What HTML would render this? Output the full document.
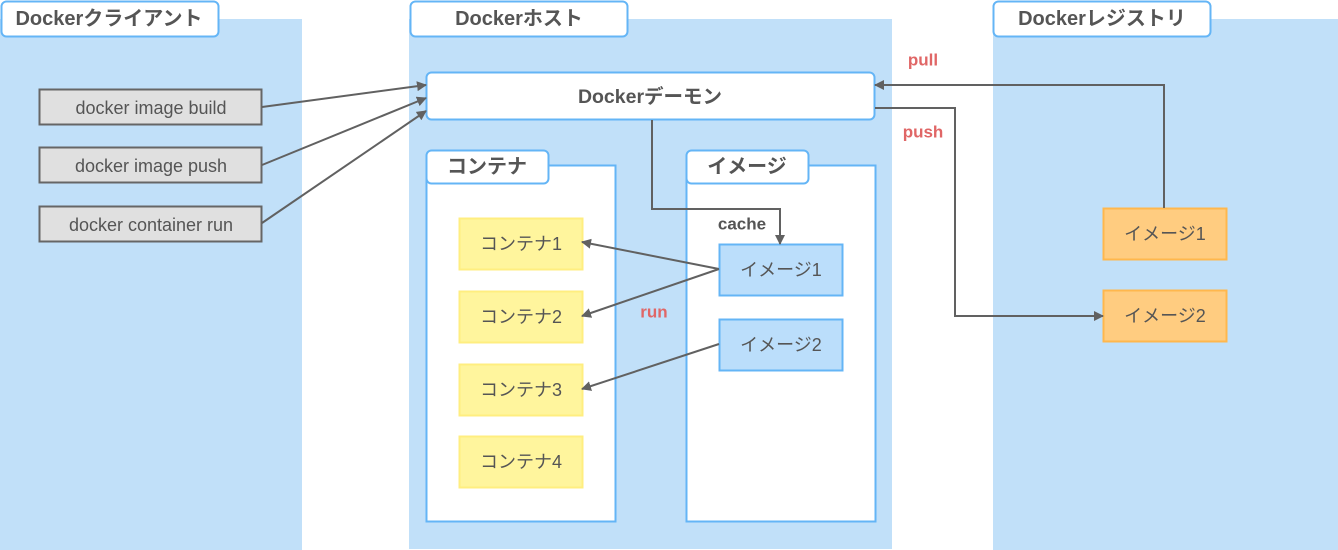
<!DOCTYPE html>
<html><head><meta charset="utf-8"><style>
html,body{margin:0;padding:0;background:#fff;}
svg{display:block;}
text{font-family:"Liberation Sans","Noto Sans CJK JP",sans-serif;fill:#555;}
.t{font-size:18px;text-anchor:middle;dominant-baseline:central;}
.b{font-size:19.5px;font-weight:bold;text-anchor:middle;dominant-baseline:central;}
.h{font-size:20px;font-weight:bold;text-anchor:middle;dominant-baseline:central;}
.l{font-size:17px;font-weight:bold;text-anchor:middle;dominant-baseline:central;}
</style></head><body>
<svg width="1338" height="550" viewBox="0 0 1338 550" xmlns="http://www.w3.org/2000/svg">
<defs><marker id="a" markerWidth="10" markerHeight="10" refX="9" refY="5" orient="auto" markerUnits="userSpaceOnUse"><path d="M0,0 L10,5 L0,10 Z" fill="#616161"/></marker></defs>
<rect x="0" y="19" width="302" height="531" fill="#c1e0f9"/>
<rect x="409" y="19" width="483" height="530" fill="#c1e0f9"/>
<rect x="993" y="19" width="345" height="531" fill="#c1e0f9"/>
<rect x="1.5" y="1.5" width="217" height="35" rx="5" fill="#fff" stroke="#64b5f6" stroke-width="2"/>
<text class="h" x="109" y="19">Dockerクライアント</text>
<rect x="410.5" y="1.5" width="217" height="35" rx="5" fill="#fff" stroke="#64b5f6" stroke-width="2"/>
<text class="h" x="519" y="19">Dockerホスト</text>
<rect x="993.5" y="1.5" width="217" height="35" rx="5" fill="#fff" stroke="#64b5f6" stroke-width="2"/>
<text class="h" x="1102" y="19">Dockerレジストリ</text>

<rect x="39.5" y="89.5" width="222" height="35" fill="#e0e0e0" stroke="#666" stroke-width="2"/>
<text class="t" x="151" y="108">docker image build</text>
<rect x="39.5" y="147.5" width="222" height="35" fill="#e0e0e0" stroke="#666" stroke-width="2"/>
<text class="t" x="151" y="166">docker image push</text>
<rect x="39.5" y="206.5" width="222" height="35" fill="#e0e0e0" stroke="#666" stroke-width="2"/>
<text class="t" x="151" y="225">docker container run</text>

<rect x="426.5" y="72.5" width="448" height="47" rx="5" fill="#fff" stroke="#64b5f6" stroke-width="2"/>
<text class="b" x="650" y="97">Dockerデーモン</text>

<rect x="426.5" y="165.5" width="189" height="356" fill="#fff" stroke="#64b5f6" stroke-width="2"/>
<rect x="426.5" y="150.5" width="122" height="33" rx="5" fill="#fff" stroke="#64b5f6" stroke-width="2"/>
<text class="h" x="487" y="167">コンテナ</text>
<rect x="686.5" y="165.5" width="189" height="356" fill="#fff" stroke="#64b5f6" stroke-width="2"/>
<rect x="686.5" y="150.5" width="122" height="33" rx="5" fill="#fff" stroke="#64b5f6" stroke-width="2"/>
<text class="h" x="747" y="167">イメージ</text>

<g fill="#fff59d" stroke="#ffee80" stroke-width="2">
<rect x="459.5" y="218.5" width="123" height="51"/><rect x="459.5" y="291.5" width="123" height="51"/>
<rect x="459.5" y="364.5" width="123" height="51"/><rect x="459.5" y="436.5" width="123" height="51"/></g>
<text class="t" x="521" y="244">コンテナ1</text><text class="t" x="521" y="317">コンテナ2</text>
<text class="t" x="521" y="390">コンテナ3</text><text class="t" x="521" y="462">コンテナ4</text>

<g fill="#bbdefb" stroke="#64b5f6" stroke-width="2">
<rect x="719.5" y="244.5" width="123" height="51"/><rect x="719.5" y="319.5" width="123" height="51"/></g>
<text class="t" x="781" y="270">イメージ1</text><text class="t" x="781" y="345">イメージ2</text>

<g fill="#ffcc80" stroke="#ffb74d" stroke-width="2">
<rect x="1103.5" y="208.5" width="123" height="51"/><rect x="1103.5" y="290.5" width="123" height="51"/></g>
<text class="t" x="1165" y="234">イメージ1</text><text class="t" x="1165" y="316">イメージ2</text>

<g stroke="#616161" stroke-width="2" fill="none" marker-end="url(#a)">
<line x1="262" y1="107" x2="426" y2="85"/>
<line x1="262" y1="165" x2="426" y2="98"/>
<line x1="262" y1="223" x2="426" y2="111"/>
<polyline points="1164,208 1164,85 875,85"/>
<polyline points="875,108 955,108 955,316 1103,316"/>
<polyline points="652,120 652,209 780,209 780,244"/>
<line x1="719" y1="269" x2="582" y2="242"/>
<line x1="719" y1="269" x2="582" y2="316"/>
<line x1="719" y1="344" x2="582" y2="389"/>
</g>
<text class="l" x="923" y="60" style="fill:#e06666">pull</text>
<text class="l" x="923" y="132" style="fill:#e06666">push</text>
<text class="l" x="654" y="312" style="fill:#e06666">run</text>
<text class="l" x="742" y="224">cache</text>
</svg>
</body></html>
